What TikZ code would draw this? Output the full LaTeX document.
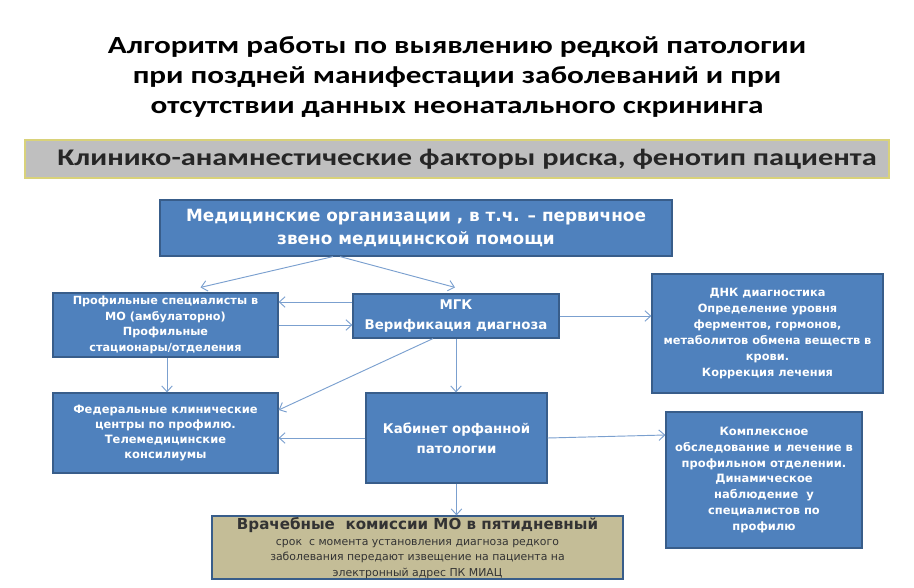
\documentclass[tikz,border=0pt]{standalone}
\usepackage{fontspec}
\setmainfont{Carlito}
\newfontfamily\headfont[FakeStretch=1.27]{Carlito}
\newfontfamily\boxfont{DejaVu Sans}
\usepackage{xcolor}
\usetikzlibrary{arrows.meta,positioning,calc}

\definecolor{boxblue}{HTML}{4F81BD}
\definecolor{boxline}{HTML}{385D8A}
\definecolor{arrowblue}{HTML}{7BA0CF}
\definecolor{tanfill}{HTML}{C4BD97}
\definecolor{bannergray}{HTML}{BFBFBF}
\definecolor{bannerline}{HTML}{D9D27A}

\begin{document}
\begin{tikzpicture}[
    x=0.03cm,y=-0.03cm,
    box/.style={draw=boxline,fill=boxblue,line width=1pt,align=center,
                text=white,font=\boxfont\bfseries,inner sep=2pt},
    link/.style={draw=arrowblue,line width=0.8pt,-{Straight Barb[length=5pt,width=9pt]}}
  ]
  \useasboundingbox (0,0) rectangle (914,588);
  % title and banner
  \node[align=center,font=\headfont\bfseries\fontsize{21}{25.5}\selectfont] (title) at (457,77)
    {Алгоритм работы по выявлению редкой патологии\\
     при поздней манифестации заболеваний и при\\
     отсутствии данных неонатального скрининга};
  \node[draw=bannerline,fill=bannergray,line width=1pt,minimum width=25.92cm,minimum height=1.14cm,
        font=\headfont\bfseries\fontsize{20.4}{24}\selectfont,text=black!85] (risk) at (457,159)
    {\hspace*{0.6cm}Клинико-анамнестические факторы риска, фенотип пациента};
  % boxes
  \node[box,minimum width=15.36cm,minimum height=1.68cm,font=\boxfont\bfseries\fontsize{14.4}{20}\selectfont] (mo) at (416,228)
    {Медицинские организации , в т.ч. – первичное\\звено медицинской помощи};
  \node[box,minimum width=6.75cm,minimum height=1.92cm,font=\boxfont\bfseries\fontsize{9.6}{13.2}\selectfont] (prof) at (165.5,325)
    {Профильные специалисты в\\МО (амбулаторно)\\Профильные\\стационары/отделения};
  \node[box,minimum width=6.18cm,minimum height=1.32cm,font=\boxfont\bfseries\fontsize{11.4}{17}\selectfont] (mgk) at (456,316)
    {МГК\\Верификация диагноза};
  \node[box,minimum width=6.93cm,minimum height=3.57cm,font=\boxfont\bfseries\fontsize{9.7}{13.6}\selectfont] (dnk) at (767.5,333.5)
    {ДНК диагностика\\Определение уровня\\ферментов, гормонов,\\метаболитов обмена веществ в\\крови.\\Коррекция лечения};
  \node[box,minimum width=6.75cm,minimum height=2.4cm,font=\boxfont\bfseries\fontsize{9.8}{13}\selectfont] (fed) at (165.5,433)
    {Федеральные клинические\\центры по профилю.\\Телемедицинские\\консилиумы};
  \node[box,minimum width=5.43cm,minimum height=2.7cm,font=\boxfont\bfseries\fontsize{11.4}{17}\selectfont] (kab) at (456.5,438)
    {Кабинет орфанной\\патологии};
  \node[box,minimum width=5.88cm,minimum height=4.08cm,font=\boxfont\bfseries\fontsize{9.8}{13.6}\selectfont] (kompl) at (764,480)
    {Комплексное\\обследование и лечение в\\профильном отделении.\\Динамическое\\наблюдение \ у\\специалистов по\\профилю};
  \node[draw=boxline,fill=tanfill,line width=1pt,minimum width=12.33cm,minimum height=1.89cm] (vrach) at (417.5,547.5) {};
  \node[anchor=north,align=center,inner sep=0pt,font=\boxfont\fontsize{9.3}{13.3}\selectfont,text=black!80] (vrtext) at ($(vrach.north)+(0,2)$)
    {{\bfseries\fontsize{12.9}{16}\selectfont Врачебные \ комиссии МО в пятидневный}\\
     срок \ с момента установления диагноза редкого\\
     заболевания передают извещение на пациента на\\
     электронный адрес ПК МИАЦ};
  % connectors
  \draw[link] ($(mo.south)+(-83,0)$) -- ($(prof.north)+(35,-5)$);
  \draw[link] ($(mo.south)+(-76,0)$) -- ($(mgk.north)+(-1,-6)$);
  \draw[link] ($(mgk.west)+(0,-14)$) -- ($(prof.east)+(0,-23)$);
  \draw[link] (prof.east) -- ($(mgk.west)+(0,9)$);
  \draw[link] (mgk.east) -- (mgk.east -| dnk.west);
  \draw[link] ($(prof.south)+(1.5,0)$) -- ($(fed.north)+(1.5,0)$);
  \draw[link] ($(mgk.south)+(-23,0)$) -- ($(fed.east)+(0,-23)$);
  \draw[link] (mgk.south) -- (mgk.south |- kab.north);
  \draw[link] (kab.west) -- (kab.west -| fed.east);
  \draw[link] (kab.east) -- ($(kompl.west)+(0,-45)$);
  \draw[link] (kab.south) -- (kab.south |- vrach.north);
\end{tikzpicture}
\end{document}
